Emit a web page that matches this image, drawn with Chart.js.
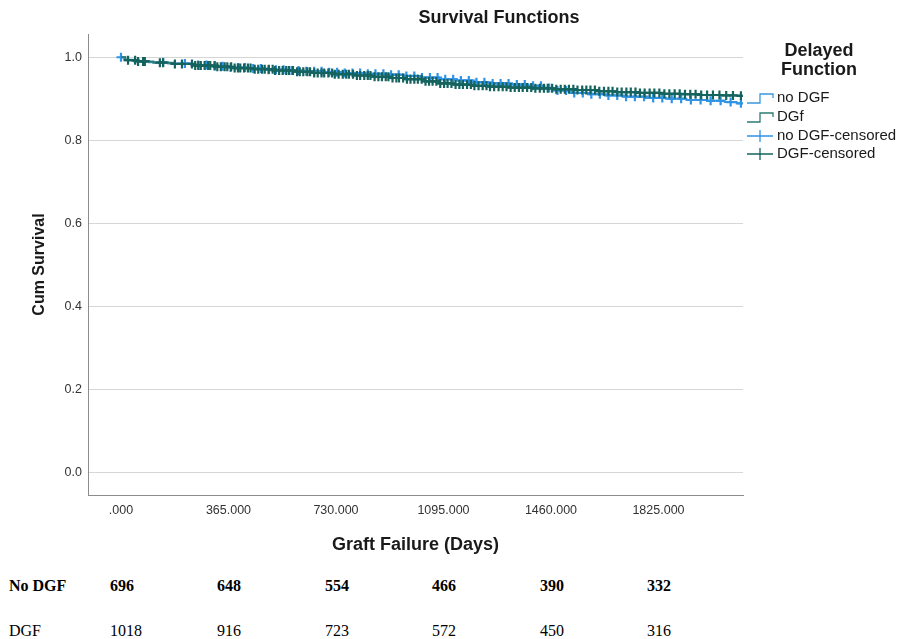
<!DOCTYPE html>
<html>
<head>
<meta charset="utf-8">
<title>Survival Functions</title>
<script src="https://cdn.jsdelivr.net/npm/chart.js@4.4.1/dist/chart.umd.min.js"></script>
<style>
  html, body { margin: 0; padding: 0; background: #ffffff; }
  #wrap { position: relative; width: 897px; height: 639px; overflow: hidden; }
  #c { position: absolute; left: 0; top: 0; }
  .risk { position: absolute; font-family: "Liberation Serif", "Times New Roman", serif; font-size: 16px; line-height: 16px; color: #000; white-space: nowrap; }
  .risk.b { font-weight: bold; }
</style>
</head>
<body>
<div id="wrap">
  <canvas id="c" width="897" height="560"></canvas>
</div>
<script>
// Axis ticks
const tickDays = [0, 365, 730, 1095, 1460, 1825];
const tickLabels = ['.000', '365.000', '730.000', '1095.000', '1460.000', '1825.000'];
const survTicks = [0, 0.2, 0.4, 0.6, 0.8, 1.0];
const survTickLabels = ['0.0', '0.2', '0.4', '0.6', '0.8', '1.0'];

// Legend entries
const legendTitle = ['Delayed', 'Function'];
const legendLabels = ['no DGF', 'DGf', 'no DGF-censored', 'DGF-censored'];

// Kaplan-Meier steps, no DGF group (days, cumulative survival)
const noDgfTimes = [0, 12, 40, 95, 160, 240, 300, 370, 430, 500, 560, 620, 690, 760, 830, 900, 960, 1020, 1080, 1140, 1200, 1260, 1320, 1380, 1430, 1480, 1530, 1590, 1650, 1710, 1780, 1850, 1920, 1990, 2050, 2090];
const noDgfSurv  = [1.000, 0.994, 0.991, 0.988, 0.985, 0.981, 0.978, 0.975, 0.973, 0.970, 0.968, 0.966, 0.964, 0.962, 0.960, 0.958, 0.955, 0.951, 0.947, 0.944, 0.940, 0.937, 0.934, 0.931, 0.926, 0.920, 0.914, 0.911, 0.908, 0.905, 0.902, 0.900, 0.897, 0.895, 0.892, 0.889];

// Kaplan-Meier steps, DGF group
const dgfTimes = [0, 15, 55, 110, 180, 250, 320, 380, 450, 520, 590, 650, 720, 790, 850, 910, 970, 1030, 1080, 1130, 1190, 1250, 1320, 1400, 1470, 1540, 1610, 1680, 1750, 1830, 1900, 1970, 2040, 2100];
const dgfSurv  = [1.000, 0.993, 0.990, 0.987, 0.984, 0.980, 0.977, 0.974, 0.971, 0.968, 0.965, 0.962, 0.959, 0.956, 0.953, 0.950, 0.947, 0.942, 0.937, 0.934, 0.931, 0.929, 0.927, 0.925, 0.923, 0.921, 0.918, 0.916, 0.914, 0.912, 0.911, 0.909, 0.908, 0.907];

// Censoring times (days)
const noDgfCensored = [0, 143, 217, 262, 290, 318, 345, 372, 398, 421, 449, 475, 501, 526, 552, 579, 603, 629, 656, 681, 707, 734, 760, 786, 812, 838, 864, 891, 917, 943, 969, 996, 1022, 1049, 1075, 1101, 1128, 1154, 1181, 1207, 1234, 1262, 1289, 1316, 1344, 1371, 1399, 1426, 1454, 1482, 1511, 1539, 1568, 1597, 1626, 1655, 1685, 1715, 1745, 1776, 1807, 1838, 1870, 1902, 1935, 1968, 2002, 2036, 2070, 2105];
const dgfCensored = [24, 48, 58, 75, 81, 132, 143, 183, 207, 241, 252, 263, 271, 284, 296, 303, 318, 327, 339, 352, 361, 374, 386, 397, 405, 418, 431, 440, 454, 466, 479, 488, 502, 515, 523, 537, 549, 561, 570, 584, 598, 607, 619, 633, 642, 656, 668, 681, 690, 704, 717, 726, 739, 753, 765, 774, 788, 801, 812, 826, 838, 847, 861, 874, 886, 899, 908, 922, 935, 944, 958, 971, 983, 996, 1008, 1021, 1034, 1046, 1058, 1071, 1084, 1097, 1109, 1122, 1136, 1149, 1161, 1175, 1188, 1200, 1214, 1228, 1241, 1253, 1267, 1282, 1296, 1309, 1323, 1337, 1351, 1364, 1379, 1393, 1407, 1422, 1436, 1449, 1464, 1478, 1493, 1507, 1521, 1536, 1550, 1566, 1580, 1594, 1609, 1624, 1640, 1655, 1669, 1685, 1700, 1716, 1731, 1747, 1762, 1778, 1795, 1811, 1828, 1845, 1862, 1880, 1897, 1915, 1933, 1951, 1970, 1990, 2010, 2032, 2055, 2078, 2105];

// Numbers at risk
const riskRowLabels = ['No DGF', 'DGF'];
const riskNoDgf = [696, 648, 554, 466, 390, 332];
const riskDgf = [1018, 916, 723, 572, 450, 316];

const BLUE = '#2f93e6';
const BLUE_LINE = '#3a98e0';
const TEAL = '#15635e';
const TEAL_LINE = '#2e7b75';
const SANS = '"Liberation Sans", Arial, sans-serif';

// survival value of a step function at time t
function survAt(times, surv, t) {
  let s = surv[0];
  for (let i = 0; i < times.length; i++) {
    if (times[i] <= t) s = surv[i];
  }
  return s;
}

function stepPoints(times, surv, censored) {
  const pts = times.map((t, i) => ({ x: t, y: surv[i] }));
  const last = censored[censored.length - 1];
  if (last > times[times.length - 1]) pts.push({ x: last, y: surv[surv.length - 1] });
  return pts;
}

function censorPoints(times, surv, censored) {
  return censored.map(t => ({ x: t, y: survAt(times, surv, t) }));
}

const titlePlugin = {
  id: 'kmTitle',
  afterDraw(chart) {
    const ctx = chart.ctx;
    ctx.save();
    ctx.fillStyle = '#1a1a1a';
    ctx.font = 'bold 18px ' + SANS;
    ctx.textAlign = 'center';
    ctx.textBaseline = 'middle';
    ctx.fillText('Survival Functions', 499, 18);
    ctx.restore();
  }
};

const legendPlugin = {
  id: 'kmLegend',
  afterDraw(chart) {
    const ctx = chart.ctx;
    const x0 = chart.chartArea.right + 4;
    const xm = x0 + 13;
    const x1 = x0 + 26;
    const tx = x0 + 30;
    ctx.save();
    ctx.fillStyle = '#1a1a1a';
    ctx.font = 'bold 18px ' + SANS;
    ctx.textAlign = 'center';
    ctx.textBaseline = 'middle';
    ctx.fillText(legendTitle[0], 819, 51);
    ctx.fillText(legendTitle[1], 819, 70);

    const rows = [98, 117, 136, 154];
    const colors = [BLUE_LINE, TEAL_LINE, BLUE, TEAL];
    ctx.lineWidth = 1.3;
    rows.forEach((y, i) => {
      ctx.strokeStyle = colors[i];
      ctx.beginPath();
      if (i < 2) {
        // step symbol
        ctx.moveTo(x0, y + 5);
        ctx.lineTo(xm, y + 5);
        ctx.lineTo(xm, y - 4);
        ctx.lineTo(x1, y - 4);
        ctx.lineTo(x1, y);
      } else {
        // censor symbol
        ctx.moveTo(x0, y);
        ctx.lineTo(x1, y);
        ctx.moveTo(xm, y - 6);
        ctx.lineTo(xm, y + 6);
      }
      ctx.stroke();
    });

    ctx.fillStyle = '#1a1a1a';
    ctx.font = '15px ' + SANS;
    ctx.textAlign = 'left';
    legendLabels.forEach((lab, i) => ctx.fillText(lab, tx, rows[i]));
    ctx.restore();
  }
};

const riskPlugin = {
  id: 'riskTable',
  afterRender(chart) {
    if (chart.$riskDone) return;
    chart.$riskDone = true;
    const wrap = document.getElementById('wrap');
    const xs = chart.scales.x;
    const rows = [
      { label: riskRowLabels[0], values: riskNoDgf, bold: true, top: 578 },
      { label: riskRowLabels[1], values: riskDgf, bold: false, top: 623 }
    ];
    rows.forEach(r => {
      const lab = document.createElement('div');
      lab.className = 'risk' + (r.bold ? ' b' : '');
      lab.style.left = '9px';
      lab.style.top = r.top + 'px';
      lab.textContent = r.label;
      wrap.appendChild(lab);
      r.values.forEach((v, i) => {
        const d = document.createElement('div');
        d.className = 'risk' + (r.bold ? ' b' : '');
        d.style.left = Math.round(xs.getPixelForValue(tickDays[i]) - 11) + 'px';
        d.style.top = r.top + 'px';
        d.textContent = String(v);
        wrap.appendChild(d);
      });
    });
  }
};

new Chart(document.getElementById('c'), {
  data: {
    datasets: [
      {
        type: 'scatter', label: legendLabels[3], order: 0,
        data: censorPoints(dgfTimes, dgfSurv, dgfCensored),
        pointStyle: 'cross', pointRadius: 4.5, pointBorderWidth: 2.2,
        borderColor: TEAL, backgroundColor: TEAL, showLine: false
      },
      {
        type: 'line', label: legendLabels[1], order: 1,
        data: stepPoints(dgfTimes, dgfSurv, dgfCensored),
        stepped: true, borderColor: TEAL_LINE, borderWidth: 2, pointRadius: 0, fill: false
      },
      {
        type: 'scatter', label: legendLabels[2], order: 2,
        data: censorPoints(noDgfTimes, noDgfSurv, noDgfCensored),
        pointStyle: 'cross', pointRadius: 4.5, pointBorderWidth: 2.2,
        borderColor: BLUE, backgroundColor: BLUE, showLine: false
      },
      {
        type: 'line', label: legendLabels[0], order: 3,
        data: stepPoints(noDgfTimes, noDgfSurv, noDgfCensored),
        stepped: true, borderColor: BLUE_LINE, borderWidth: 2, pointRadius: 0, fill: false
      }
    ]
  },
  options: {
    responsive: false,
    animation: false,
    devicePixelRatio: 1,
    layout: { padding: { top: 34, right: 154, bottom: 0, left: 0 } },
    plugins: {
      legend: { display: false },
      title: { display: false },
      tooltip: { enabled: false }
    },
    scales: {
      x: {
        type: 'linear', position: 'bottom',
        min: -112, max: 2112,
        afterBuildTicks: s => { s.ticks = tickDays.map(v => ({ value: v })); },
        afterFit: s => { s.height = 65; },
        ticks: {
          callback: v => tickLabels[tickDays.indexOf(v)],
          font: { family: SANS, size: 12.5 }, color: '#333333',
          padding: 8, maxRotation: 0, autoSkip: false
        },
        grid: { display: false, drawTicks: false },
        border: { display: true, color: '#8c8c8c', width: 1 },
        title: {
          display: true, text: 'Graft Failure (Days)', color: '#1a1a1a',
          font: { family: SANS, size: 18, weight: 'bold' },
          padding: { top: 0, bottom: 4.2 }
        }
      },
      y: {
        type: 'linear', position: 'left',
        min: -0.055, max: 1.056,
        afterBuildTicks: s => { s.ticks = survTicks.map(v => ({ value: v })); },
        afterFit: s => { s.width = 88; },
        ticks: {
          callback: v => survTickLabels[survTicks.findIndex(t => Math.abs(t - v) < 1e-9)],
          font: { family: SANS, size: 12.5 }, color: '#333333',
          padding: 6
        },
        grid: { display: true, drawTicks: false, color: '#d6d6d6', lineWidth: 1 },
        border: { display: true, color: '#8c8c8c', width: 1 },
        title: {
          display: true, text: 'Cum Survival', color: '#1a1a1a',
          font: { family: SANS, size: 16, weight: 'bold' },
          padding: { top: 30.4, bottom: 0 }
        }
      }
    }
  },
  plugins: [titlePlugin, legendPlugin, riskPlugin]
});
</script>
</body>
</html>
